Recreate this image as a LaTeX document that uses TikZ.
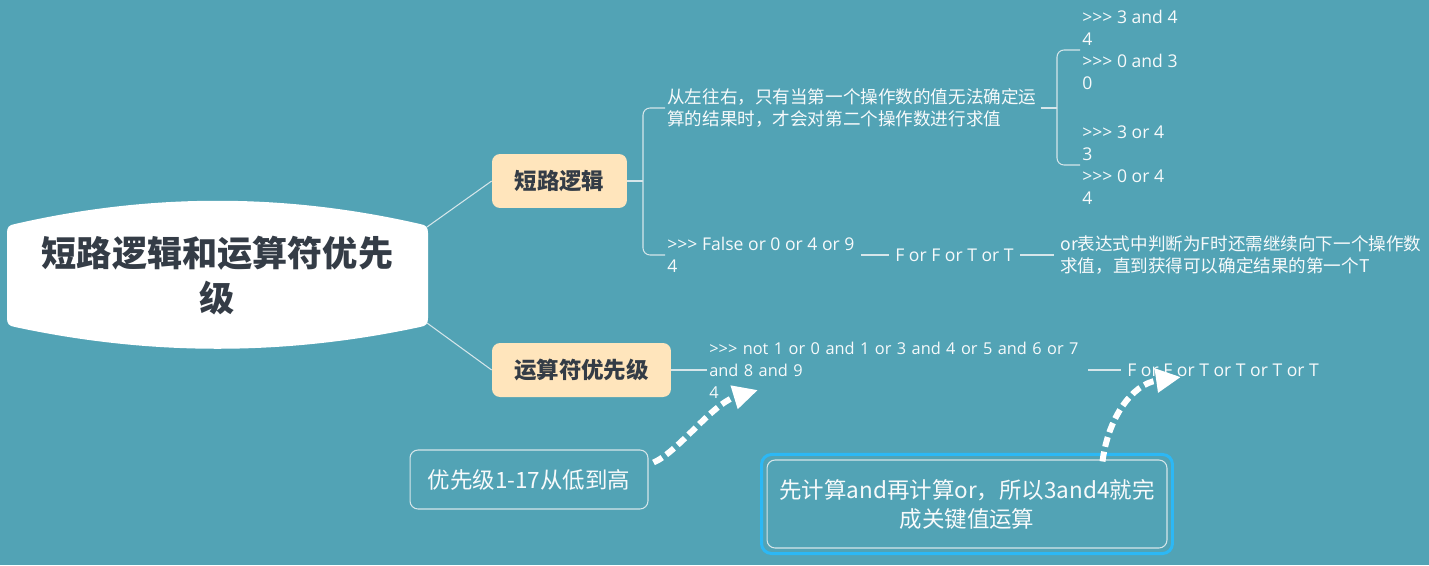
\documentclass[tikz,border=0pt]{standalone}
\usepackage{fontspec}
\setmainfont{Noto Sans CJK SC}
\newfontfamily\codefont{Open Sans}
\usepackage{tikz}
\usetikzlibrary{arrows.meta, positioning, calc}
\definecolor{mmbg}{HTML}{52A3B5}
\definecolor{mmdark}{HTML}{343C46}
\definecolor{mmpeach}{HTML}{FFE5BC}
\definecolor{mmline}{HTML}{D6E6EA}
\definecolor{mmblue}{HTML}{2CB8F5}
\definecolor{mmtext}{HTML}{F7FAFB}
\newcommand{\pyprompt}{>\kern0pt>\kern0pt>}

\begin{document}
\begin{tikzpicture}[
    x=0.02cm, y=-0.02cm,
    rootnode/.style={rectangle, minimum width=8.42cm, minimum height=2.02cm, inner sep=0pt, align=center, text=mmdark, font=\fontsize{20}{25.6}\selectfont\bfseries},
    topicnode/.style={rectangle, rounded corners=0.16cm, fill=mmpeach, text=mmdark, minimum height=1.08cm, font=\fontsize{12.8}{15}\selectfont\bfseries},
    leafnode/.style={anchor=west, align=left, inner sep=0.04cm, text=mmtext, font=\fontsize{10}{12.4}\selectfont},
    codenode/.style={leafnode, font=\fontsize{10}{12.6}\selectfont\codefont},
    notebox/.style={rectangle, rounded corners=0.16cm, draw=mmline, line width=0.6pt, text=mmtext, align=center, font=\fontsize{12.8}{16.5}\selectfont},
    link/.style={draw=mmline, line width=0.6pt},
    gaplink/.style={link, shorten <=0.08cm, shorten >=0.08cm},
    callarrow/.style={draw=white, line width=0.12cm, dash pattern=on 0.2cm off 0.1cm, -{Triangle[length=0.5cm, width=0.46cm]}}
]

% Background and page size
\fill[mmbg] (0,0) rectangle (1429,565);
\useasboundingbox (0,0) rectangle (1429,565);

% Root shape with bulging top and bottom
\fill[white] (7,233) -- (7,318) .. controls (7,324) and (9,326) .. (15,327)
    .. controls (150,356) and (285,356) .. (420,327)
    .. controls (426,326) and (428,324) .. (428,318) -- (428,233)
    .. controls (428,227) and (426,225) .. (420,224)
    .. controls (285,193) and (150,193) .. (15,224)
    .. controls (9,225) and (7,227) .. (7,233) -- cycle;
\node[rootnode] (root) at (217.5,275.5) {短路逻辑和运算符优先\\级};

% Main topics
\node[topicnode, minimum width=2.7cm] (logic) at (559.5,181) {短路逻辑};
\node[topicnode, minimum width=3.58cm] (prec) at (581.5,370) {运算符优先级};
\coordinate (rootup) at (427,227);
\coordinate (rootdown) at (427,323);
\draw[link] (rootup) -- (logic.west);
\draw[link] (rootdown) -- (prec.west);

% Short-circuit branch
\node[leafnode] (rule) at (665,108) {从左往右，只有当第一个操作数的值无法确定运\\算的结果时，才会对第二个操作数进行求值};
\node[codenode] (orchain) at (665,255) {\pyprompt{} False or 0 or 4 or 9\\4};
\coordinate (logicfork) at (643,181);
\draw[link] (logic.east) -- (logicfork);
\draw[link, rounded corners=0.14cm] (rule.west) -| (logicfork) |- (orchain.west);

\node[codenode] (andcase) at (1080,50) {\pyprompt{} 3 and 4\\4\\\pyprompt{} 0 and 3\\0};
\node[codenode] (orcase) at (1080,165) {\pyprompt{} 3 or 4\\3\\\pyprompt{} 0 or 4\\4};
\coordinate (rulefork) at (1057,108);
\draw[link] ($(rule.east)+(2,0)$) -- (rulefork);
\draw[link, rounded corners=0.14cm] (andcase.west) -| (rulefork) |- (orcase.west);

\node[codenode] (ortruth) at (893,255) {F or F or T or T};
\node[leafnode] (ornote) at (1058,255) {or表达式中判断为F时还需继续向下一个操作数\\求值，直到获得可以确定结果的第一个T};
\draw[gaplink] (orchain.east) -- (ortruth.west);
\draw[gaplink] (ortruth.east) -- (ornote.west);

% Precedence branch
\node[codenode, text width=7.45cm, font=\fontsize{9.3}{12.6}\selectfont\codefont] (precexpr) at (707,370) {\mbox{\pyprompt{} not 1 or 0 and 1 or 3 and 4 or 5 and 6 or 7}\\and 8 and 9\\4};
\node[codenode] (prectruth) at (1125,370) {F or F or T or T or T or T};
\draw[link] (prec.east) -- (precexpr.west);
\draw[gaplink] (precexpr.east) -- (prectruth.west);

% Notes
\node[notebox, minimum width=4.76cm, minimum height=1.18cm] (levelnote) at (529,479.5) {优先级1-17从低到高};
\node[notebox, minimum width=8cm, minimum height=1.76cm] (andnote) at (967,504) {先计算and再计算or，所以3and4就完\\成关键值运算};
\draw[mmblue, line width=1.7pt, rounded corners=0.2cm] ($(andnote.north west)+(-5,-5)$) rectangle ($(andnote.south east)+(5,5)$);

% Dashed pointers
\coordinate (levelfrom) at ($(levelnote.east)+(5,-17)$);
\coordinate (levelto) at (758,390);
\coordinate (andfrom) at ($(andnote.north east)+(-65,2)$);
\coordinate (andto) at (1181,377);
\draw[callarrow] (levelfrom) .. controls (678,452) and (712,404) .. (levelto);
\draw[callarrow] (andfrom) .. controls (1108,418) and (1132,384) .. (andto);

\end{tikzpicture}
\end{document}
